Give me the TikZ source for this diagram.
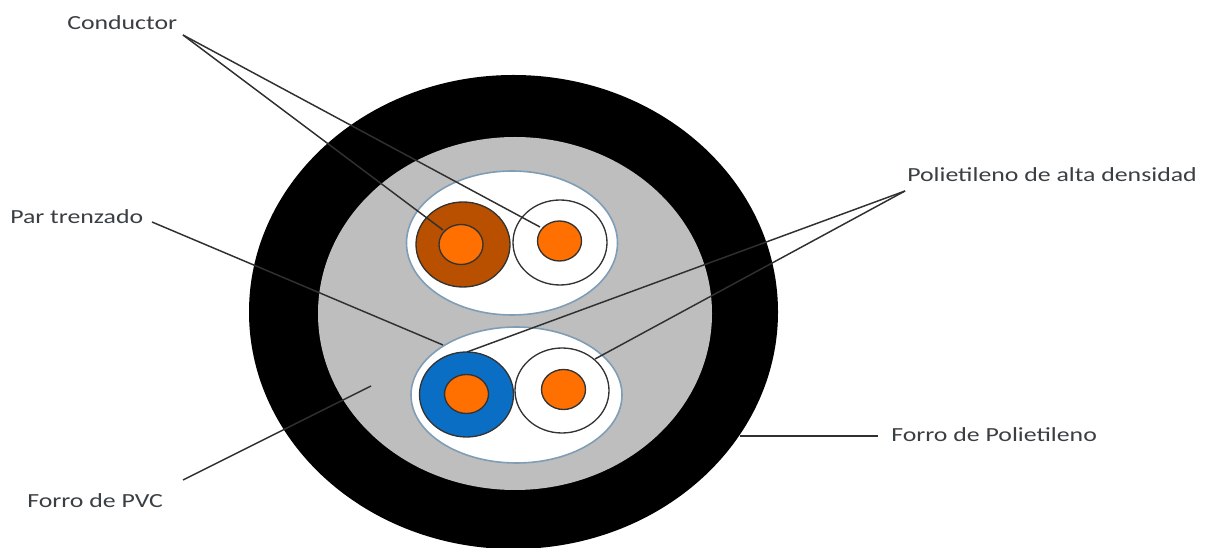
\documentclass[tikz,border=0pt]{standalone}
\usepackage{fontspec}
\setmainfont[FakeStretch=1.29]{Carlito}
\definecolor{lbl}{HTML}{3A3F44}
\definecolor{grayfill}{HTML}{BEBEBE}
\definecolor{brownfill}{HTML}{B85000}
\definecolor{orangefill}{HTML}{FF7000}
\definecolor{bluefill}{HTML}{0A6FC4}
\definecolor{rimblue}{HTML}{7F9DB5}
\definecolor{lead}{HTML}{303030}
\tikzset{
  lbltext/.style={font=\fontsize{15pt}{17pt}\selectfont, text=lbl, anchor=west, inner sep=0pt},
  leader/.style={draw=lead, line width=1.1pt},
  rim/.style={fill=white, draw=rimblue, line width=1.2pt},
  core/.style={fill=orangefill, draw=black!80, line width=1pt},
  jacket/.style={draw=black!80, line width=1pt},
}
\begin{document}
\begin{tikzpicture}[x=0.75pt,y=-0.75pt]
\useasboundingbox (0,0) rectangle (1210,548);
\fill[white] (0,0) rectangle (1210,548);
\begin{scope}
\clip (0,0) rectangle (1210,548);
\fill[black] (513.5,312) ellipse [x radius=264.5, y radius=237];
\end{scope}
\fill[grayfill] (515,313.5) ellipse [x radius=197, y radius=176.5];
% upper pair
\filldraw[rim] (512,243) ellipse [x radius=105.5, y radius=72];
\filldraw[jacket, fill=brownfill] (463,244.5) ellipse [x radius=47, y radius=42.5];
\filldraw[jacket, fill=white] (560,242.5) ellipse [x radius=47, y radius=42.5];
\filldraw[core] (461,244.5) ellipse [x radius=22, y radius=20];
\filldraw[core] (559.5,241) ellipse [x radius=22, y radius=20];
% lower pair
\filldraw[rim] (516.5,395) ellipse [x radius=105.5, y radius=68];
\filldraw[jacket, fill=bluefill] (466.5,394.5) ellipse [x radius=47, y radius=42.5];
\filldraw[jacket, fill=white] (562,390.5) ellipse [x radius=47, y radius=42.5];
\filldraw[core] (466.5,394) ellipse [x radius=22, y radius=19.5];
\filldraw[core] (563.5,389.5) ellipse [x radius=22, y radius=20];
% labels
\node[lbltext] (cond) at (67,23) {Conductor};
\node[lbltext] (par) at (10,217) {Par trenzado};
\node[lbltext] (poli) at (907,175) {Polietileno de alta densidad};
\node[lbltext] (forrop) at (891,435) {Forro de Polietileno};
\node[lbltext] (forrov) at (27,501) {Forro de PVC};
% leader anchors
\coordinate (condfrom) at (183,35);
\coordinate (condA) at (540,227);
\coordinate (condB) at (443,230);
\coordinate (parfrom) at (152,222);
\coordinate (parto) at (443,345);
\coordinate (polifrom) at (905,191);
\coordinate (poliA) at (467,352);
\coordinate (poliB) at (595,359);
\coordinate (fpfrom) at (878,436);
\coordinate (fpto) at (740,436);
\coordinate (fvfrom) at (183,480);
\coordinate (fvto) at (371,386);
\draw[leader] (condfrom) -- (condA);
\draw[leader] (condfrom) -- (condB);
\draw[leader] (parfrom) -- (parto);
\draw[leader] (polifrom) -- (poliA);
\draw[leader] (polifrom) -- (poliB);
\draw[leader, line width=1.5pt] (fpfrom) -- (fpto);
\draw[leader] (fvfrom) -- (fvto);
\end{tikzpicture}
\end{document}
